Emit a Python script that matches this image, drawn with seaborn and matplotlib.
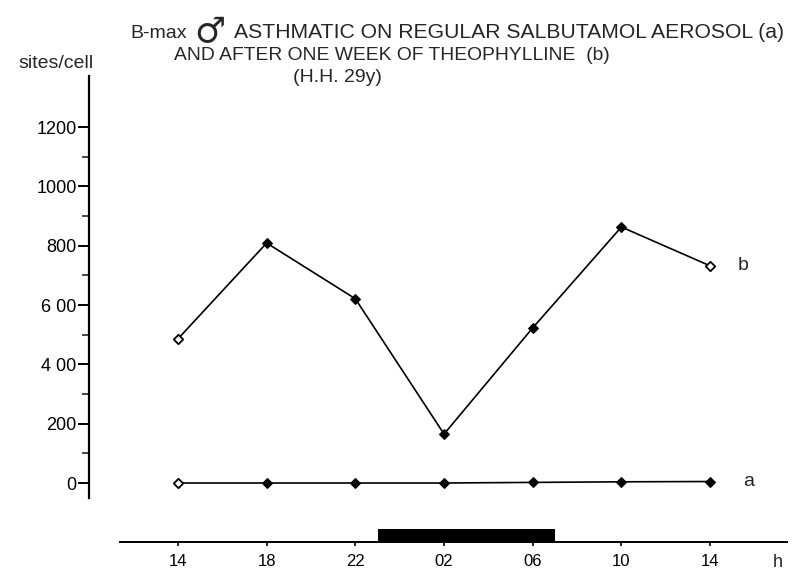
import matplotlib
matplotlib.use("Agg")
import matplotlib.pyplot as plt
import seaborn as sns
import numpy as np
import pandas as pd

# ---- data ----
clock_labels = ["14", "18", "22", "02", "06", "10", "14"]
hours = [0, 4, 8, 12, 16, 20, 24]          # hours elapsed since 14h
series_b = [486, 809, 621, 165, 523, 863, 732]
series_a = [0, 0, 0, 0, 2, 4, 5]
b_open = [True, False, False, False, False, False, True]
a_open = [True, False, False, False, False, False, False]
dark_start_clock = 23
dark_end_clock = 7
y_ticks = [0, 200, 400, 600, 800, 1000, 1200]
y_tick_labels = ["0", "200", "4 00", "6 00", "800", "1000", "1200"]

sns.set_theme(style="white")
plt.rcParams["font.family"] = ["Liberation Sans", "DejaVu Sans"]

W, H = 792, 571
fig = plt.figure(figsize=(W / 100, H / 100), dpi=100)

px_per_h = 22.17
x0_px = 178  # pixel of hour 0

def hx(px):
    return (px - x0_px) / px_per_h

# main axes
left_px, right_px, top_px, bot_px = 89, 792, 76, 498
ax = fig.add_axes([left_px / W, (H - bot_px) / H, (right_px - left_px) / W, (bot_px - top_px) / H])
ax.set_xlim(hx(left_px), hx(right_px))
y_per_px = 200 / 59.33
ax.set_ylim(-(bot_px - 483) * y_per_px, (483 - top_px) * y_per_px)

df = pd.DataFrame({"h": hours * 2,
                   "v": series_b + series_a,
                   "s": ["b"] * 7 + ["a"] * 7,
                   "open": b_open + a_open})

for s in ["b", "a"]:
    d = df[df.s == s]
    sns.lineplot(data=d, x="h", y="v", ax=ax, color="black", lw=1.2,
                 marker="D", markersize=5, markerfacecolor="black",
                 markeredgecolor="black", legend=False)
    do = d[d.open]
    sns.scatterplot(data=do, x="h", y="v", ax=ax, marker="D", s=22,
                    facecolor="white", edgecolor="black", linewidth=1.2,
                    legend=False, zorder=5)

ax.text(hx(738), 732, "b", fontsize=14, ha="left", va="center")
ax.text(hx(743), 5, "a", fontsize=14, ha="left", va="center")

for sp in ["top", "right", "bottom"]:
    ax.spines[sp].set_visible(False)
ax.spines["left"].set_linewidth(1.6)
ax.spines["left"].set_color("black")
ax.set_xticks([])
ax.set_yticks(y_ticks)
ax.set_yticklabels(y_tick_labels, fontsize=13)
ax.set_yticks([100, 300, 500, 700, 900, 1100], minor=True)
ax.tick_params(axis="y", which="major", direction="out", length=8, width=1.4,
               left=True, pad=1, colors="black")
ax.tick_params(axis="y", which="minor", direction="out", length=5, width=1.2, left=True)
ax.set_xlabel("")
ax.set_ylabel("")

# bottom time axis
bl, br, btop, bbot = 120, 787, 528, 542
bx = fig.add_axes([bl / W, (H - bbot) / H, (br - bl) / W, (bbot - btop) / H])
bx.set_xlim(hx(bl), hx(br))
bx.set_ylim(0, 1)
ds = (dark_start_clock - 14) % 24
de = ds + ((dark_end_clock - dark_start_clock) % 24)
bx.axvspan(ds, de, ymin=0, ymax=0.9, color="black", lw=0)
for sp in ["top", "right", "left"]:
    bx.spines[sp].set_visible(False)
bx.spines["bottom"].set_linewidth(1.4)
bx.spines["bottom"].set_color("black")
bx.set_yticks([])
bx.set_xticks(hours)
bx.set_xticklabels(clock_labels, fontsize=12)
bx.tick_params(axis="x", direction="out", length=3, width=1.2, pad=6, bottom=True, colors="black")
bx.text(hx(778), -1.45, "h", fontsize=13, ha="center", va="center")
bx.set_facecolor("none")

# titles
fig.text(18 / W, 1 - 63 / H, "sites/cell", fontsize=14, ha="left", va="center")
fig.text(130 / W, 1 - 33 / H, "B-max", fontsize=14, ha="left", va="center")
fig.text(194 / W, 1 - 32 / H, "\u2642", fontsize=25, ha="left", va="center",
         family=["DejaVu Sans"])
fig.text(234 / W, 1 - 33 / H, "ASTHMATIC ON REGULAR SALBUTAMOL AEROSOL (a)",
         fontsize=15.2, ha="left", va="center")
fig.text(174 / W, 1 - 56 / H, "AND AFTER ONE WEEK OF THEOPHYLLINE  (b)",
         fontsize=13.9, ha="left", va="center")
fig.text(293 / W, 1 - 78 / H, "(H.H. 29y)", fontsize=14, ha="left", va="center")

fig.savefig("out.png", dpi=100)
